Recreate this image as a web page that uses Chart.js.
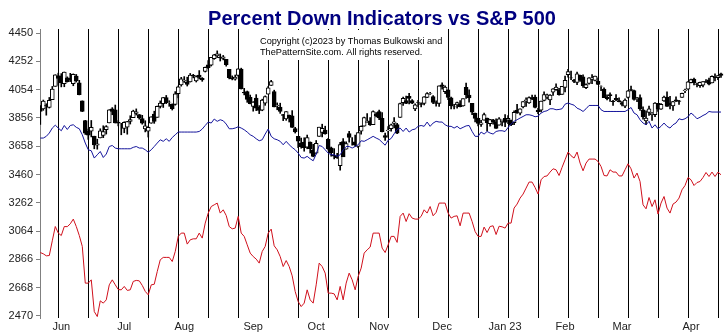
<!DOCTYPE html>
<html>
<head>
<meta charset="utf-8">
<script src="https://cdn.jsdelivr.net/npm/chart.js@4"></script>
<style>
  html, body { margin: 0; padding: 0; background: #fff; }
  #wrap { width: 725px; height: 334px; }
</style>
</head>
<body>
<div id="wrap"><canvas id="chart"></canvas></div>
<script>
// S&P 500 daily bars, 20 May 2022 .. 18 Apr 2023 (one entry per trading day)
const open = [
  3927,3919,3943,3929,3984,4077,4151,4150,4096,4137,
  4135,4096,4148,4101,3975,3838,3764,3764,3728,3665,
  3716,3733,3774,3821,3920,3913,3825,3785,3782,3792,
  3831,3858,3888,3880,3851,3779,3763,3819,3883,3860,
  3936,3955,3999,3966,3953,3951,4026,4087,4113,4104,
  4108,4154,4115,4155,4133,4181,4227,4225,4270,4290,
  4280,4273,4266,4195,4134,4127,4154,4198,4035,4041,
  4000,3937,3994,3930,3910,3959,4022,4084,4041,3940,
  3932,3880,3849,3876,3871,3782,3727,3682,3687,3651,
  3687,3633,3609,3727,3754,3771,3706,3647,3596,3590,
  3521,3690,3638,3746,3695,3689,3657,3763,3799,3825,
  3835,3808,3882,3901,3853,3733,3767,3780,3817,3810,
  3859,3963,3978,4007,3977,3919,3966,3956,3957,4000,
  4024,4006,3964,3957,4087,4040,4053,3997,3934,3947,
  3954,3940,4070,4016,3958,3890,3853,3810,3840,3854,
  3816,3843,3829,3805,3830,3853,3840,3840,3823,3911,
  3889,3932,3977,3961,3999,4002,3911,3910,3979,4001,
  3982,4036,4053,4049,4020,4070,4158,4137,4120,4105,
  4153,4144,4068,4097,4126,4119,4114,4078,4057,4002,
  4019,3973,3993,3978,3964,3938,3999,4055,4048,3987,
  3998,3912,3835,3894,3876,3878,3958,3917,3975,4002,
  3959,3939,3982,3975,3999,4047,4057,4102,4128,4094,
  4081,4085,4110,4122,4101,4140,4137,4164
];
const high = [
  3943,3981,3955,3999,4076,4158,4169,4166,4177,4143,
  4168,4164,4160,4119,3975,3839,3778,3838,3728,3707,
  3780,3801,3802,3914,3928,3946,3837,3818,3829,3832,
  3871,3910,3919,3880,3874,3836,3796,3864,3903,3939,
  3975,3999,4013,3976,3954,4040,4079,4140,4145,4141,
  4167,4161,4151,4187,4138,4212,4257,4280,4301,4325,
  4303,4293,4266,4195,4150,4156,4200,4204,4063,4044,
  4016,3970,4019,3942,3987,4010,4076,4119,4050,3961,
  3959,3881,3900,3876,3907,3790,3727,3715,3717,3736,
  3688,3671,3698,3791,3812,3798,3713,3652,3641,3608,
  3685,3712,3689,3762,3718,3736,3753,3800,3862,3887,
  3859,3905,3893,3911,3894,3750,3796,3813,3859,3818,
  3959,4002,4008,4028,3984,3955,3979,3962,4005,4034,
  4035,4013,3976,4080,4101,4080,4053,4001,3951,3966,
  3977,3990,4100,4053,3958,3890,3854,3839,3889,3854,
  3846,3846,3849,3858,3840,3879,3873,3840,3906,3951,
  3919,3970,3997,4004,4015,4015,3923,3973,4039,4023,
  4019,4061,4094,4063,4077,4148,4195,4183,4126,4176,
  4156,4157,4094,4138,4159,4148,4136,4081,4067,4017,
  4031,3979,4019,3997,3971,3990,4048,4079,4051,4000,
  4017,3934,3905,3938,3894,3964,3958,3956,4009,4039,
  4007,3972,4003,3979,4030,4057,4110,4128,4134,4100,
  4107,4110,4124,4134,4150,4164,4152,4169
];
const low = [
  3810,3909,3875,3925,3984,4077,4084,4073,4074,4107,
  4110,4081,4107,4017,3900,3740,3706,3723,3640,3637,
  3716,3718,3743,3821,3878,3820,3800,3738,3752,3742,
  3813,3858,3876,3847,3812,3758,3722,3818,3818,3860,
  3925,3929,3956,3937,3911,3945,3996,4078,4104,4079,
  4107,4136,4107,4128,4112,4177,4200,4219,4266,4278,
  4254,4262,4218,4129,4122,4120,4147,4058,4017,3965,
  3954,3903,3907,3886,3906,3944,4022,4083,3933,3913,
  3888,3837,3839,3827,3789,3750,3648,3644,3623,3640,
  3610,3584,3604,3727,3723,3742,3631,3588,3569,3573,
  3491,3584,3638,3687,3666,3657,3647,3742,3799,3825,
  3803,3808,3863,3843,3758,3699,3722,3764,3786,3745,
  3859,3944,3956,3953,3955,3906,3935,3933,3946,3998,
  4020,3955,3938,3937,4057,4026,3984,3919,3918,3924,
  3933,3938,3993,3966,3879,3828,3800,3796,3840,3765,
  3798,3813,3783,3805,3800,3795,3815,3802,3809,3887,
  3877,3925,3937,3957,3984,3926,3885,3898,3974,3989,
  3949,4013,4048,4015,4020,4037,4141,4124,4103,4088,
  4111,4070,4061,4092,4095,4114,4089,4047,3997,3982,
  3972,3943,3977,3968,3939,3928,3994,4044,3980,3970,
  3909,3847,3809,3874,3838,3864,3901,3916,3971,3936,
  3919,3909,3970,3951,3999,4032,4056,4101,4087,4072,
  4069,4072,4102,4086,4100,4114,4124,4140
];
const close = [
  3901,3973,3941,3979,4058,4158,4132,4101,4177,4109,
  4121,4161,4116,4018,3901,3750,3735,3790,3667,3675,
  3765,3760,3796,3912,3901,3821,3819,3785,3825,3831,
  3845,3903,3899,3855,3819,3801,3790,3863,3831,3937,
  3960,3999,3962,3967,3921,4024,4073,4130,4119,4091,
  4155,4152,4145,4140,4122,4210,4208,4280,4297,4305,
  4275,4284,4228,4138,4128,4141,4199,4058,4031,3986,
  3955,3967,3924,3908,3980,4006,4067,4110,3932,3946,
  3901,3873,3900,3856,3790,3758,3693,3655,3647,3719,
  3640,3586,3678,3791,3783,3744,3640,3612,3589,3577,
  3669,3583,3677,3720,3695,3666,3753,3797,3859,3831,
  3807,3901,3872,3856,3760,3720,3771,3807,3828,3749,
  3956,3993,3957,3992,3959,3947,3965,3950,4003,4027,
  4026,3964,3958,4080,4077,4072,3999,3941,3933,3964,
  3934,3991,4019,3996,3896,3852,3818,3821,3879,3822,
  3845,3829,3783,3849,3840,3825,3853,3808,3895,3893,
  3919,3970,3983,3999,3991,3929,3899,3973,4020,4017,
  4016,4060,4071,4018,4077,4119,4180,4136,4111,4164,
  4118,4081,4090,4137,4136,4148,4090,4079,3997,3991,
  4012,3970,3982,3970,3951,3981,4045,4048,3986,3992,
  3918,3862,3855,3920,3892,3960,3917,3951,4002,3937,
  3949,3971,3977,3971,4028,4051,4109,4124,4101,4091,
  4105,4110,4109,4092,4146,4138,4152,4154
];

// percent-down indicators, scaled onto the price axis
const pctDownBlue = [
  3715,3715,3727,3750,3785,3805,3785,3766,3803,3775,
  3803,3808,3790,3780,3738,3680,3633,3626,3575,3598,
  3621,3579,3603,3656,3663,3645,3640,3640,3640,3640,
  3640,3650,3656,3645,3645,3633,3616,3633,3656,3680,
  3703,3692,3710,3692,3719,3738,3757,3757,3757,3757,
  3757,3757,3757,3761,3778,3803,3827,3820,3848,3832,
  3843,3836,3813,3780,3780,3785,3794,3785,3773,3757,
  3738,3727,3710,3696,3703,3743,3778,3727,3710,3703,
  3692,3668,3692,3668,3649,3633,3610,3579,3575,3587,
  3570,3556,3603,3663,3656,3633,3610,3598,3598,3587,
  3598,3633,3656,3656,3645,3656,3668,3696,3692,3703,
  3715,3727,3715,3705,3685,3665,3700,3712,3745,3775,
  3785,3761,3785,3757,3773,3778,3797,3803,3797,3827,
  3797,3820,3832,3827,3827,3808,3797,3797,3785,3797,
  3780,3790,3800,3803,3761,3727,3727,3757,3743,3761,
  3750,3743,3761,3766,3766,3761,3789,3813,3832,3843,
  3855,3866,3878,3878,3873,3864,3868,3890,3901,3906,
  3920,3920,3913,3915,3920,3952,3960,3952,3945,3924,
  3915,3901,3920,3943,3943,3943,3943,3913,3901,3901,
  3901,3901,3901,3901,3901,3901,3913,3929,3890,3878,
  3843,3820,3808,3832,3785,3808,3780,3797,3820,3797,
  3785,3808,3820,3850,3843,3850,3864,3890,3873,3850,
  3860,3873,3883,3901,3897,3897,3897,3897
];
const pctDownRed = [
  2914,2905,2891,2893,2996,3096,3050,3033,3096,3095,
  3115,3148,3096,3033,2957,2700,2700,2723,2501,2466,
  2576,2560,2583,2688,2723,2688,2655,2653,2677,2649,
  2653,2712,2719,2716,2684,2642,2618,2688,2692,2781,
  2863,2880,2880,2880,2851,2921,3027,3050,3050,2973,
  3003,3010,3010,3050,3015,3120,3190,3236,3248,3260,
  3190,3213,3173,3096,3080,3085,3167,3050,3027,2968,
  2910,2886,2868,2840,2921,2957,3050,3078,2961,2933,
  2886,2816,2858,2816,2751,2641,2571,2536,2560,2653,
  2583,2560,2688,2840,2816,2770,2630,2630,2625,2583,
  2677,2583,2700,2770,2723,2653,2747,2805,2910,2933,
  2952,3050,3050,3050,2945,2914,2968,3027,3027,2985,
  3167,3190,3131,3186,3155,3148,3148,3167,3213,3190,
  3236,3171,3195,3260,3260,3260,3190,3155,3167,3171,
  3101,3190,3190,3190,3131,3061,3027,3027,3092,3054,
  3096,3101,3040,3098,3094,3085,3120,3120,3225,3253,
  3295,3323,3365,3407,3407,3369,3323,3423,3446,3450,
  3477,3500,3493,3453,3510,3563,3617,3591,3575,3617,
  3540,3486,3540,3568,3568,3568,3551,3516,3453,3450,
  3493,3477,3477,3450,3450,3493,3535,3500,3435,3470,
  3411,3248,3220,3299,3236,3283,3183,3260,3306,3225,
  3190,3253,3267,3295,3353,3383,3439,3423,3383,3404,
  3411,3439,3474,3446,3477,3446,3477,3458
];

// x-axis: month names sit under the first trading day of each month
const monthNames = ['Jun', 'Jul', 'Aug', 'Sep', 'Oct', 'Nov', 'Dec', 'Jan 23', 'Feb', 'Mar', 'Apr'];
const monthStart = [7, 28, 48, 71, 92, 113, 134, 155, 175, 194, 217];

// y-axis
const yMin = 2470;
const yStep = 198;
const yCount = 11;

// vertical rules every ten bars
const ruleStart = 6;
const ruleEvery = 10;

const FONT = 'Arial, "Liberation Sans", sans-serif';
Chart.defaults.font.family = FONT;

const ruleTicks = [];
for (let v = ruleStart; v < close.length; v += ruleEvery) ruleTicks.push(v);

const yTicks = [];
for (let k = 0; k <= (yCount - 1) * 2; k++) yTicks.push(yMin + k * yStep / 2);

// title centred over the plot area, plus the copyright note on a white patch
const headerText = {
  id: 'headerText',
  beforeDatasetsDraw(chart) {
    const ctx = chart.ctx;
    const area = chart.chartArea;
    ctx.save();
    ctx.fillStyle = '#fff';
    ctx.fillRect(254, 30, 192, 30);
    ctx.fillStyle = '#000';
    ctx.font = '9.2px ' + FONT;
    ctx.textBaseline = 'middle';
    ctx.textAlign = 'left';
    ctx.fillText('Copyright (c)2023 by Thomas Bulkowski and', 260, 41);
    ctx.fillText('ThePatternSite.com. All rights reserved.', 260, 52);
    ctx.fillStyle = '#000080';
    ctx.font = 'bold 20px ' + FONT;
    ctx.textAlign = 'center';
    ctx.textBaseline = 'alphabetic';
    ctx.fillText('Percent Down Indicators vs S&P 500', (area.left + area.right) / 2, 25);
    ctx.restore();
  }
};

const idx = close.map((_, i) => i);

new Chart(document.getElementById('chart'), {
  type: 'bar',
  data: {
    datasets: [
      {
        type: 'line',
        data: idx.map(i => ({ x: i, y: pctDownRed[i] })),
        borderColor: '#d0101c',
        borderWidth: 1,
        pointRadius: 0,
        tension: 0,
        order: 1,
      },
      {
        type: 'line',
        data: idx.map(i => ({ x: i, y: pctDownBlue[i] })),
        borderColor: '#14149c',
        borderWidth: 1,
        pointRadius: 0,
        tension: 0,
        order: 2,
      },
      {
        // candle bodies: hollow when the day closed up
        data: idx.map(i => ({ x: i, y: [open[i], close[i]] })),
        backgroundColor: ctx => close[ctx.dataIndex] >= open[ctx.dataIndex] ? '#fff' : '#000',
        borderColor: '#000',
        borderWidth: 1,
        borderSkipped: false,
        barThickness: 4,
        grouped: false,
        order: 3,
      },
      {
        // high-low wicks
        data: idx.map(i => ({ x: i, y: [low[i], high[i]] })),
        backgroundColor: '#000',
        barThickness: 1,
        grouped: false,
        order: 4,
      },
    ]
  },
  options: {
    responsive: true,
    maintainAspectRatio: false,
    animation: false,
    devicePixelRatio: 1,
    layout: { padding: { left: 0, right: 1, top: 29, bottom: 0 } },
    plugins: {
      legend: { display: false },
      tooltip: { enabled: false },
      title: { display: false },
    },
    scales: {
      x: {
        type: 'linear',
        min: -0.1,
        max: 228,
        offset: false,
        border: { display: false },
        grid: {
          offset: false,
          drawTicks: false,
          color: ctx => ruleTicks.includes(ctx.tick && ctx.tick.value) ? '#000' : 'rgba(0,0,0,0)',
        },
        ticks: {
          autoSkip: false,
          maxRotation: 0,
          minRotation: 0,
          padding: 2,
          color: '#222',
          font: { size: 11 },
          callback: v => {
            const m = monthStart.indexOf(v);
            return m >= 0 ? monthNames[m] : '';
          },
        },
        afterBuildTicks: s => {
          s.ticks = ruleTicks.concat(monthStart).sort((a, b) => a - b).map(v => ({ value: v }));
        },
        afterFit: s => { s.height = 16; },
      },
      y: {
        type: 'linear',
        min: 2456,
        max: 4478,
        border: { display: true, color: '#808080' },
        grid: { drawOnChartArea: false, drawTicks: true, tickLength: 4, color: '#808080' },
        ticks: {
          padding: 3,
          color: '#222',
          font: { size: 11 },
          callback: v => ((v - yMin) % yStep === 0 ? String(v) : ''),
        },
        afterBuildTicks: s => { s.ticks = yTicks.map(v => ({ value: v })); },
        afterFit: s => { s.width = 40; },
      },
    },
  },
  plugins: [headerText],
});
</script>
</body>
</html>
